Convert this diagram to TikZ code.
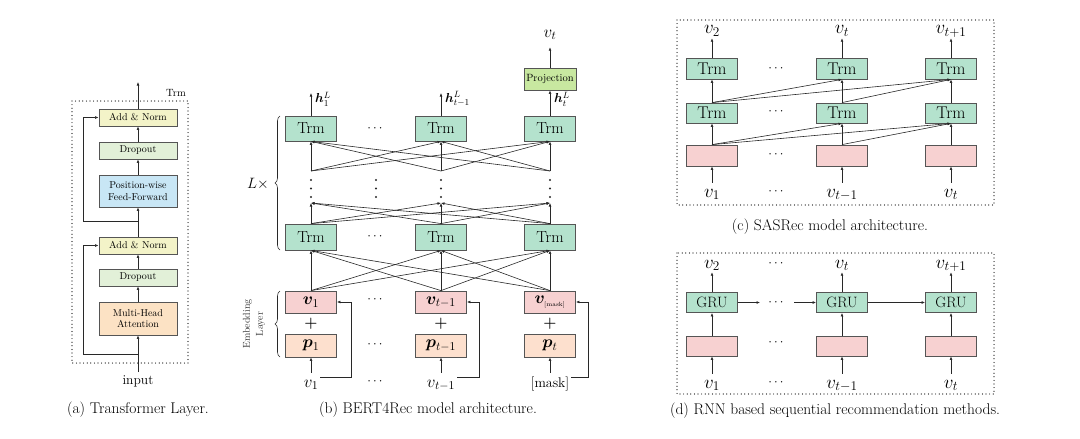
\RequirePackage{fix-cm}
\documentclass[tikz,border=0pt]{standalone}
\usepackage{amsmath}
\usepackage{bm}
\usetikzlibrary{arrows.meta,calc,decorations.pathreplacing}
\definecolor{bordergray}{RGB}{85,85,85}
\definecolor{linegray}{RGB}{40,40,40}
\definecolor{trmgreen}{RGB}{180,226,205}
\definecolor{embpink}{RGB}{247,209,209}
\definecolor{pospeach}{RGB}{253,224,206}
\definecolor{addnorm}{RGB}{243,243,200}
\definecolor{dropc}{RGB}{226,240,216}
\definecolor{ffblue}{RGB}{200,230,245}
\definecolor{mhac}{RGB}{252,226,196}
\definecolor{projc}{RGB}{200,232,160}
\begin{document}
\begin{tikzpicture}[x=1pt,y=-1pt,
  every node/.style={inner sep=0pt},
  abox/.style={draw=bordergray,line width=0.8pt,minimum width=78pt,align=center,font=\fontsize{10}{11.5}\selectfont},
  bbox/.style={draw=bordergray,line width=0.8pt,minimum width=51pt,font=\fontsize{16}{16}\selectfont},
  cbox/.style={draw=bordergray,line width=0.8pt,minimum width=51pt,font=\fontsize{17}{17}\selectfont},
  arr/.style={-{Latex[length=3.5pt,width=2.8pt]},line width=0.6pt,draw=linegray},
  ln/.style={line width=0.6pt,draw=linegray},
  dotbox/.style={line width=1.2pt,dash pattern=on 0pt off 3.6pt,line cap=round},
  labb/.style={anchor=base,text height=12pt,text depth=2pt,inner sep=2pt,font=\fontsize{17}{17}\selectfont},
  labc/.style={anchor=base,text height=12pt,text depth=2pt,inner sep=2pt,font=\fontsize{19}{19}\selectfont},
  cdt/.style={font=\fontsize{13}{13}\selectfont},
  captxt/.style={font=\fontsize{15.5}{15.5}\selectfont}
]
\useasboundingbox (0,0) rectangle (1080,439);

%% ---------------- (a) Transformer layer
\draw[dotbox] (72,101) rectangle (188,363);
\node[font=\fontsize{10.5}{10.5}\selectfont] (trmlab) at (176,93) {Trm};
\node[abox,fill=addnorm,minimum height=17pt] (an2) at (138,117.5) {Add \& Norm};
\node[abox,fill=dropc,minimum height=17pt] (do2) at (138,150.5) {Dropout};
\node[abox,fill=ffblue,minimum height=32pt] (ff) at (138,191) {Position-wise\\Feed-Forward};
\node[abox,fill=addnorm,minimum height=17pt] (an1) at (138,245.5) {Add \& Norm};
\node[abox,fill=dropc,minimum height=17pt] (do1) at (138,277.5) {Dropout};
\node[abox,fill=mhac,minimum height=33pt] (mha) at (138,318.5) {Multi-Head\\Attention};
\node[font=\fontsize{13.5}{13.5}\selectfont,inner sep=3pt] (inp) at (138,381) {input};
\coordinate (ra) at (138,354);
\coordinate (rb) at (138,221);
\coordinate (rx) at (83,0);
\coordinate (aout) at (138,82);
\draw[arr] (inp.north) -- (mha.south);
\draw[arr] (ra) -- (ra -| rx) |- (an1.west);
\draw[arr] (mha.north) -- (do1.south);
\draw[arr] (do1.north) -- (an1.south);
\draw[arr] (an1.north) -- (ff.south);
\draw[arr] (rb) -- (rb -| rx) |- (an2.west);
\draw[arr] (ff.north) -- (do2.south);
\draw[arr] (do2.north) -- (an2.south);
\draw[arr] (an2.north) -- (aout);
\node[captxt] (capa) at (138,410) {(a) Transformer Layer.};

%% ---------------- (b) BERT4Rec
\node[bbox,fill=trmgreen,minimum height=25pt] (tt1) at (311,128.5) {Trm};
\node[bbox,fill=trmgreen,minimum height=25pt] (tt2) at (441,128.5) {Trm};
\node[bbox,fill=trmgreen,minimum height=25pt] (tt3) at (550,128.5) {Trm};
\node[bbox,fill=trmgreen,minimum height=26pt] (lt1) at (311,237) {Trm};
\node[bbox,fill=trmgreen,minimum height=26pt] (lt2) at (441,237) {Trm};
\node[bbox,fill=trmgreen,minimum height=26pt] (lt3) at (550,237) {Trm};
\node[bbox,fill=embpink,minimum height=22pt,font=\fontsize{17}{17}\selectfont] (e1) at (311,302) {$\boldsymbol{v}_1$};
\node[bbox,fill=embpink,minimum height=22pt,font=\fontsize{17}{17}\selectfont] (e2) at (441,302) {$\boldsymbol{v}_{t-1}$};
\node[bbox,fill=embpink,minimum height=22pt,font=\fontsize{17}{17}\selectfont] (e3) at (550,302) {$\boldsymbol{v}_{\text{\fontsize{6}{6}\selectfont[mask]}}$};
\node[bbox,fill=pospeach,minimum height=23pt,font=\fontsize{17}{17}\selectfont] (p1) at (311,345.5) {$\boldsymbol{p}_1$};
\node[bbox,fill=pospeach,minimum height=23pt,font=\fontsize{17}{17}\selectfont] (p2) at (441,345.5) {$\boldsymbol{p}_{t-1}$};
\node[bbox,fill=pospeach,minimum height=23pt,font=\fontsize{17}{17}\selectfont] (p3) at (550,345.5) {$\boldsymbol{p}_t$};
\foreach \i/\x in {1/311,2/441,3/550}{
  \node[font=\fontsize{15}{15}\selectfont\bfseries] (plus\i) at (\x,323.5) {+};
}
\node[bbox,fill=projc,minimum width=52pt,minimum height=22pt,font=\fontsize{10.5}{10.5}\selectfont] (proj) at (550,79) {Projection};
% input labels
\node[labb] (in1) at (311,387) {$v_1$};
\node[labb] (in2) at (441,387) {$v_{t-1}$};
\node[labb,font=\fontsize{14}{14}\selectfont] (in3) at (550,387) {[mask]};
\coordinate (fb1) at (351,0);
\coordinate (fb2) at (479,0);
\coordinate (fb3) at (588,0);
\foreach \i in {1,2,3}{
  \draw[arr] (in\i.north) -- (p\i.south);
  \draw[arr] ([yshift=5pt]in\i.east) -- ([yshift=5pt]in\i.east -| fb\i) |- (e\i.east);
}
% internal points
\foreach \i/\x in {1/311,2/441,3/550}{
  \coordinate (pp\i) at (\x,171);
  \coordinate (qq\i) at (\x,203);
}
\foreach \i in {1,2,3}{
  \foreach \j in {1,2,3}{
    \draw[arr] (e\i.north) -- (lt\j.south);
    \draw[arr] (lt\i.north) -- (qq\j);
    \draw[arr] (pp\i) -- (tt\j.south);
  }
}
\foreach \x in {311,376,441,550}{
  \foreach \y in {180,188.5,197}{
    \fill[linegray] (\x,\y) circle (1.1pt);
  }
}
\foreach \n/\y in {c1/128.5,c2/237,c3/300,c4/345,c5/382}{
  \node[cdt] (bd\n) at (376,\y) {$\cdots$};
}
% outputs
\coordinate (o1) at (311,93);
\coordinate (o2) at (441,93);
\draw[arr] (tt1.north) -- (o1);
\draw[arr] (tt2.north) -- (o2);
\draw[arr] (tt3.north) -- (proj.south);
\node[anchor=west,font=\fontsize{13}{13}\selectfont] (h1) at (315,99) {$\boldsymbol{h}_1^L$};
\node[anchor=west,font=\fontsize{13}{13}\selectfont] (h2) at (445,99) {$\boldsymbol{h}_{t-1}^L$};
\node[anchor=west,font=\fontsize{13}{13}\selectfont] (h3) at (554,99) {$\boldsymbol{h}_t^L$};
\node[labb] (vt) at (550,37) {$v_t$};
\draw[arr] (proj.north) -- ([yshift=-6pt]vt.south);
% braces
\draw[decorate,decoration={brace,amplitude=5pt},line width=0.6pt,draw=linegray] (280,250) -- (280,116);
\node[font=\fontsize{15}{15}\selectfont] (lx) at (258,184) {$L\times$};
\draw[decorate,decoration={brace,amplitude=5pt},line width=0.6pt,draw=linegray] (280,357) -- (280,291);
\node[rotate=90,align=center,font=\fontsize{10}{13}\selectfont,text=black!80] (emb) at (254,324) {Embedding\\Layer};
\node[captxt] (capb) at (428,410) {(b) BERT4Rec model architecture.};

%% ---------------- (c) SASRec
\draw[dotbox] (677,20) rectangle (994,205);
\node[cbox,fill=trmgreen,minimum height=21pt] (ct1) at (712,68.5) {Trm};
\node[cbox,fill=trmgreen,minimum height=21pt] (ct2) at (842,68.5) {Trm};
\node[cbox,fill=trmgreen,minimum height=21pt] (ct3) at (951,68.5) {Trm};
\node[cbox,fill=trmgreen,minimum height=20pt] (cm1) at (712,113) {Trm};
\node[cbox,fill=trmgreen,minimum height=20pt] (cm2) at (842,113) {Trm};
\node[cbox,fill=trmgreen,minimum height=20pt] (cm3) at (951,113) {Trm};
\node[cbox,fill=embpink,minimum height=21pt] (ce1) at (712,155.5) {};
\node[cbox,fill=embpink,minimum height=21pt] (ce2) at (842,155.5) {};
\node[cbox,fill=embpink,minimum height=21pt] (ce3) at (951,155.5) {};
\node[labc] (ci1) at (712,197) {$v_1$};
\node[labc] (ci2) at (842,197) {$v_{t-1}$};
\node[labc] (ci3) at (951,197) {$v_t$};
\node[labc] (co1) at (712,34) {$v_2$};
\node[labc] (co2) at (842,34) {$v_t$};
\node[labc] (co3) at (951,34) {$v_{t+1}$};
\foreach \i in {1,2,3}{
  \draw[arr] (ci\i.north) -- (ce\i.south);
  \draw[arr] (ce\i.north) -- (cm\i.south);
  \draw[arr] (cm\i.north) -- (ct\i.south);
  \draw[arr] (ct\i.north) -- (co\i.south);
}
\foreach \i/\j in {1/2,1/3,2/3}{
  \draw[arr] (ce\i.north) -- (cm\j.south);
  \draw[arr] (cm\i.north) -- (ct\j.south);
}
\foreach \n/\y in {a/68.5,b/112,c/155,d/192}{
  \node[cdt] (cd\n) at (777,\y) {$\cdots$};
}
\node[captxt] (capc) at (830,227) {(c) SASRec model architecture.};

%% ---------------- (d) RNN
\draw[dotbox] (677,253) rectangle (994,394);
\node[cbox,fill=trmgreen,minimum height=20pt,font=\fontsize{15}{15}\selectfont] (g1) at (712,302.5) {GRU};
\node[cbox,fill=trmgreen,minimum height=20pt,font=\fontsize{15}{15}\selectfont] (g2) at (842,302.5) {GRU};
\node[cbox,fill=trmgreen,minimum height=20pt,font=\fontsize{15}{15}\selectfont] (g3) at (951,302.5) {GRU};
\node[cbox,fill=embpink,minimum height=20pt] (de1) at (712,346) {};
\node[cbox,fill=embpink,minimum height=20pt] (de2) at (842,346) {};
\node[cbox,fill=embpink,minimum height=20pt] (de3) at (951,346) {};
\node[labc] (di1) at (712,388) {$v_1$};
\node[labc] (di2) at (842,388) {$v_{t-1}$};
\node[labc] (di3) at (951,388) {$v_t$};
\node[labc] (do1x) at (712,268) {$v_2$};
\node[labc] (do2x) at (842,268) {$v_t$};
\node[labc] (do3x) at (951,268) {$v_{t+1}$};
\foreach \i/\o in {1/do1x,2/do2x,3/do3x}{
  \draw[arr] (di\i.north) -- (de\i.south);
  \draw[arr] (de\i.north) -- (g\i.south);
  \draw[arr] (g\i.north) -- (\o.south);
}
\node[cdt] (gd) at (777,302.5) {$\cdots$};
\coordinate (ga) at (760,302.5);
\coordinate (gb) at (794,302.5);
\draw[arr] (g1.east) -- (ga);
\draw[arr] (gb) -- (g2.west);
\draw[arr] (g2.east) -- (g3.west);
\foreach \n/\y in {a/264,b/343,c/383}{
  \node[cdt] (dd\n) at (777,\y) {$\cdots$};
}
\node[captxt] (capd) at (835,411) {(d) RNN based sequential recommendation methods.};
\end{tikzpicture}
\end{document}
